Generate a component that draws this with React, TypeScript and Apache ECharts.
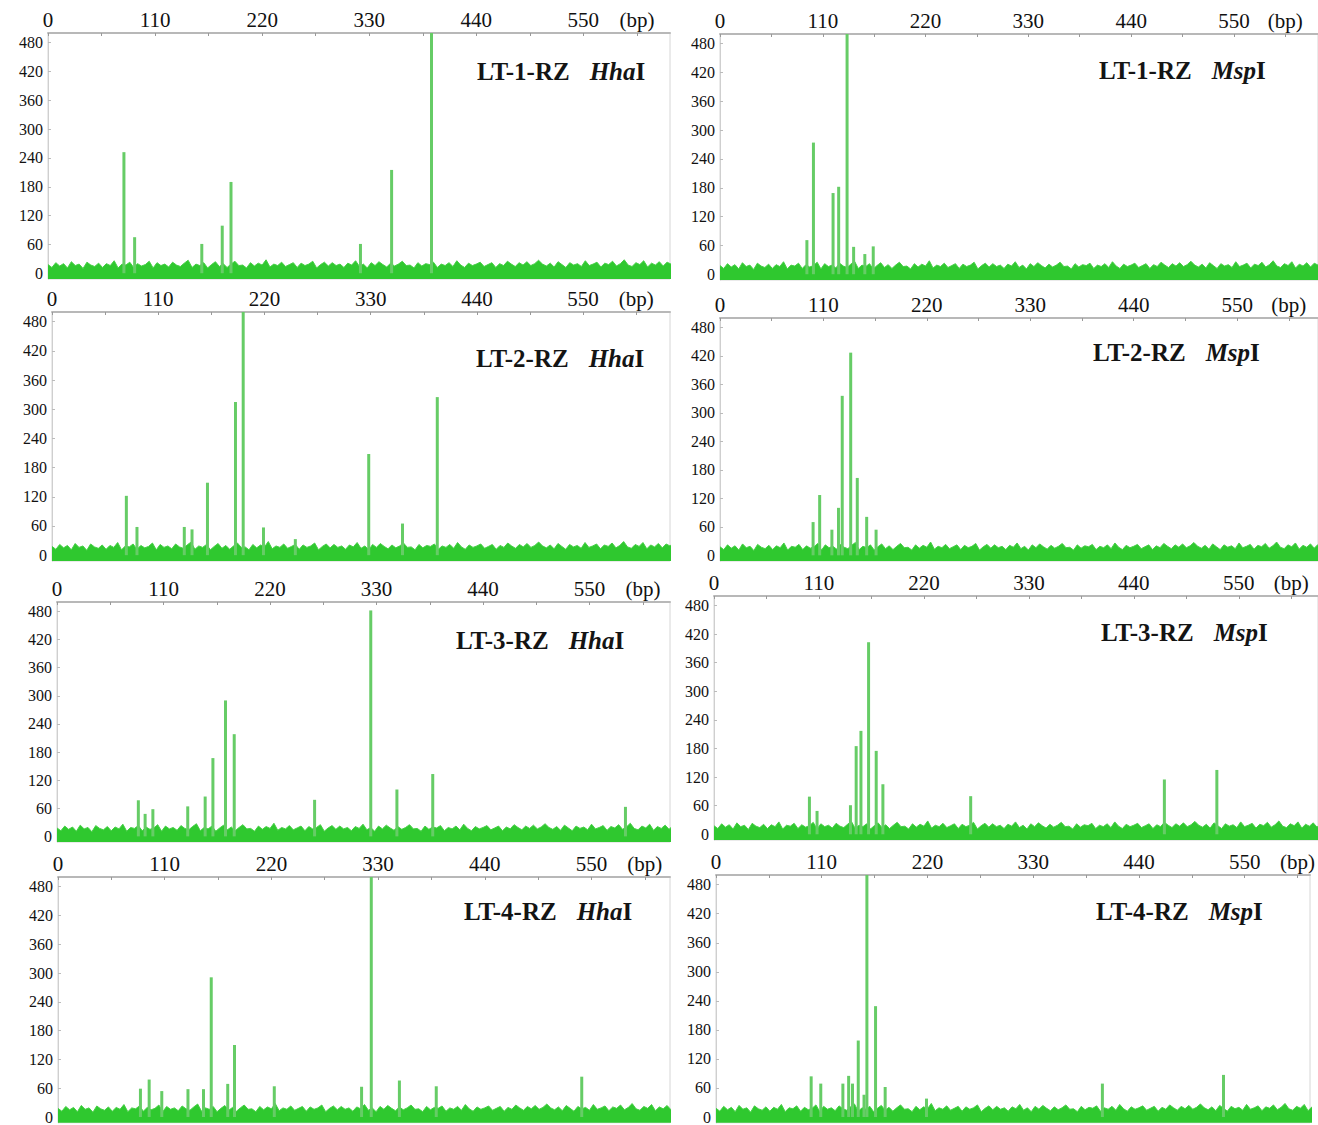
import React, { useEffect, useRef } from "react";
import * as echarts from "echarts";

// ---------- data ----------
const SAMPLES = ["LT-1-RZ", "LT-1-RZ", "LT-2-RZ", "LT-2-RZ", "LT-3-RZ", "LT-3-RZ", "LT-4-RZ", "LT-4-RZ"];
const ENZYMES = ["Hha", "Msp", "Hha", "Msp", "Hha", "Msp", "Hha", "Msp"];
const X_TICK_LABELS = [0, 110, 220, 330, 440, 550];
const X_UNIT_TICK = 605;
const X_UNIT = "(bp)";
const Y_TICKS = [0, 60, 120, 180, 240, 300, 360, 420, 480];

// [fragment size (bp), peak height]
const LT1_HHA = [[78, 252], [89, 75], [158, 61], [179, 99], [188, 190], [321, 61], [353, 215], [394, 520]];
const LT1_MSP = [[93, 71], [100, 274], [121, 169], [127, 182], [136, 520], [143, 57], [155, 42], [164, 58]];
const LT2_HHA = [[77, 122], [88, 58], [137, 58], [145, 53], [161, 149], [190, 315], [198, 520], [219, 57], [252, 33], [328, 208], [363, 65], [399, 325]];
const LT2_MSP = [[99, 70], [106, 127], [119, 54], [126, 100], [130, 336], [139, 427], [146, 163], [156, 81], [166, 54]];
const LT3_HHA = [[84, 77], [91, 48], [99, 58], [135, 64], [153, 85], [161, 167], [174, 290], [183, 218], [266, 78], [324, 482], [351, 100], [388, 133], [587, 63]];
const LT3_MSP = [[100, 79], [108, 49], [143, 61], [149, 185], [154, 217], [162, 403], [170, 175], [177, 105], [269, 80], [472, 115], [527, 135]];
const LT4_HHA = [[85, 59], [94, 78], [107, 54], [134, 58], [150, 58], [158, 291], [175, 69], [182, 150], [223, 64], [313, 63], [323, 520], [352, 76], [390, 64], [540, 84]];
const LT4_MSP = [[99, 84], [109, 69], [132, 69], [138, 85], [142, 69], [148, 158], [154, 46], [157, 520], [166, 229], [176, 62], [219, 38], [402, 69], [528, 87]];
const PEAKS = [LT1_HHA, LT1_MSP, LT2_HHA, LT2_MSP, LT3_HHA, LT3_MSP, LT4_HHA, LT4_MSP];

// baseline noise level, one value every 4 bp
const NOISE_STEP = 4;
const NOISE = [
  18, 12, 22, 15, 20, 11, 24, 16, 19, 10, 23, 17, 14, 21, 12, 20, 16, 26, 11, 19, 17, 23, 12, 20, 15, 18, 25, 11, 22, 16, 19, 13,
  23, 17, 14, 21, 27, 12, 19, 16, 22, 11, 18, 24, 14, 20, 12, 19, 25, 16, 17, 11, 22, 15, 21, 17, 28, 13, 19, 16, 23, 14, 18, 22,
  12, 21, 16, 19, 25, 11, 18, 23, 15, 22, 16, 19, 12, 21, 17, 26, 14, 19, 11, 22, 16, 24, 18, 13, 21, 15, 19, 25, 16, 17, 11, 22,
  15, 20, 18, 23, 12, 19, 16, 22, 14, 26, 17, 12, 21, 16, 19, 23, 14, 18, 22, 12, 20, 16, 25, 19, 14, 22, 17, 24, 16, 20, 27, 19,
  15, 21, 13, 24, 18, 12, 22, 17, 20, 14, 26, 16, 19, 23, 13, 21, 18, 25, 15, 20, 28, 17, 14, 22, 18, 26, 13, 21, 17, 24, 15, 23,
  19, 27, 16, 22,
];

// ---------- layout ----------
const LAYOUT = [
  { left: 48, top: 33, width: 622, height: 246, xmax: 639, tl: 477, tt: 59 },
  { left: 720, top: 34, width: 598, height: 246, xmax: 640, tl: 1099, tt: 58 },
  { left: 52, top: 312, width: 618, height: 249, xmax: 640, tl: 476, tt: 346 },
  { left: 720, top: 318, width: 598, height: 243, xmax: 636, tl: 1093, tt: 340 },
  { left: 57, top: 602, width: 613, height: 240, xmax: 633, tl: 456, tt: 628 },
  { left: 714, top: 596, width: 604, height: 244, xmax: 633, tl: 1101, tt: 620 },
  { left: 58, top: 877, width: 612, height: 248, xmax: 631, tl: 464, tt: 899 },
  { left: 716, top: 875, width: 602, height: 250, xmax: 618, tl: 1096, tt: 899 },
];

const SERIF = "'Liberation Serif', 'Times New Roman', serif";

function buildOption() {
  const noiseData = NOISE.map((v, i) => [i * NOISE_STEP, v]);
  const grid: any[] = [];
  const xAxis: any[] = [];
  const yAxis: any[] = [];
  const series: any[] = [];
  const title: any[] = [];
  LAYOUT.forEach((p, i) => {
    grid.push({
      left: p.left,
      top: p.top,
      width: p.width,
      height: p.height,
      show: true,
      borderColor: "#d6d6d6",
      borderWidth: 1,
      backgroundColor: "#fff",
    });
    xAxis.push({
      type: "value",
      gridIndex: i,
      position: "top",
      min: 0,
      max: p.xmax,
      interval: 55,
      axisLine: { show: true, onZero: false, lineStyle: { color: "#b8b8b8", width: 2 } },
      axisTick: { show: true, inside: true, length: 3, lineStyle: { color: "#999" } },
      splitLine: { show: false },
      axisLabel: {
        margin: 3,
        fontSize: 21,
        fontFamily: SERIF,
        color: "#111",
        showMaxLabel: false,
        formatter: (v: number) =>
          v === X_UNIT_TICK ? X_UNIT : X_TICK_LABELS.indexOf(v) >= 0 ? String(v) : "",
      },
    });
    yAxis.push({
      type: "value",
      gridIndex: i,
      min: -12,
      max: 500,
      axisLine: { show: true, onZero: false, lineStyle: { color: "#cfcfcf" } },
      axisTick: { show: true, inside: true, length: 3, customValues: Y_TICKS, lineStyle: { color: "#bbb" } },
      splitLine: { show: false },
      axisLabel: {
        margin: 5,
        fontSize: 16,
        fontFamily: SERIF,
        color: "#111",
        customValues: Y_TICKS,
      },
    });
    series.push({
      type: "line",
      xAxisIndex: i,
      yAxisIndex: i,
      data: noiseData,
      symbol: "none",
      silent: true,
      lineStyle: { color: "#45cf45", width: 1 },
      areaStyle: { color: "#2fc82f", opacity: 1, origin: "start" },
      z: 1,
    });
    series.push({
      type: "bar",
      xAxisIndex: i,
      yAxisIndex: i,
      data: PEAKS[i],
      barWidth: 3,
      itemStyle: { color: "#66cc66" },
      z: 2,
    });
    title.push({
      left: p.tl,
      top: p.tt,
      padding: 0,
      text: `{n|${SAMPLES[i]}}{g|}{e|${ENZYMES[i]}}{n|I}`,
      textStyle: {
        rich: {
          n: { fontFamily: SERIF, fontWeight: "bold", fontSize: 25, color: "#141414" },
          e: { fontFamily: SERIF, fontWeight: "bold", fontStyle: "italic", fontSize: 25, color: "#141414" },
          g: { width: 20 },
        },
      },
    });
  });
  return { animation: false, backgroundColor: "#fff", title, grid, xAxis, yAxis, series };
}

export default function App() {
  const ref = useRef<HTMLDivElement>(null);
  useEffect(() => {
    if (!ref.current) return;
    const chart = echarts.init(ref.current, undefined, { renderer: "svg" });
    chart.setOption(buildOption() as any);
    return () => chart.dispose();
  }, []);
  return (
    <div
      ref={ref}
      style={{ position: "absolute", left: 0, top: 0, width: 1318, height: 1125, background: "#fff" }}
    />
  );
}
